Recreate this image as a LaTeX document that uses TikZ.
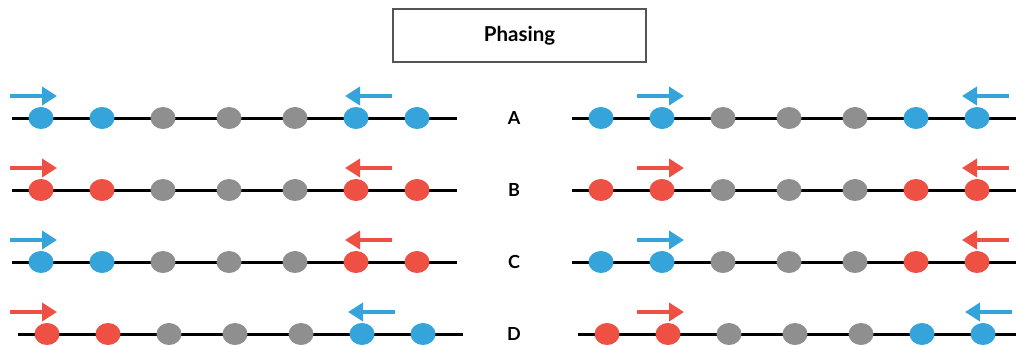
\documentclass[tikz,border=0pt]{standalone}
\usepackage{fontspec}
\setmainfont{Lato}
\usetikzlibrary{arrows.meta,shapes.geometric}
\definecolor{cblue}{HTML}{34A4DA}
\definecolor{cred}{HTML}{EE5043}
\definecolor{cgray}{HTML}{8F8F8F}
\definecolor{cframe}{HTML}{555555}
\begin{document}
\begin{tikzpicture}[x=1pt,y=-1pt,
  dot/.style={ellipse,minimum width=25pt,minimum height=22pt,inner sep=0pt,fill=#1},
  track/.style={line width=3pt,black},
  mover/.style={line width=4.5pt,draw=#1,-{Triangle[length=15pt,width=18pt,fill=#1]}},
  lbl/.style={font=\bfseries\fontsize{18}{20}\selectfont},
  titlebox/.style={draw=cframe,line width=1.5pt,minimum width=253pt,minimum height=53pt,inner sep=0pt,font=\bfseries\fontsize{20.5}{24}\selectfont}]
\useasboundingbox (0,0) rectangle (1016,345);
\node[titlebox] (title) at (519.5,35.5) {Phasing};
\foreach \r/\y/\dx/\ca/\cb in {A/118/0/cblue/cblue, B/190/0/cred/cred, C/262/0/cblue/cred, D/334/6/cred/cblue}{
  % left panel
  \coordinate (LS\r) at (12+\dx,\y);
  \coordinate (LE\r) at (457+\dx,\y);
  \draw[track] (LS\r) -- (LE\r);
  \node[dot=\ca] (L\r1) at (41+\dx,\y) {};
  \node[dot=\ca] (L\r2) at (102+\dx,\y) {};
  \node[dot=cgray] (L\r3) at (163+\dx,\y) {};
  \node[dot=cgray] (L\r4) at (229+\dx,\y) {};
  \node[dot=cgray] (L\r5) at (295+\dx,\y) {};
  \node[dot=\cb] (L\r6) at (356+\dx,\y) {};
  \node[dot=\cb] (L\r7) at (417+\dx,\y) {};
  \coordinate (LAa\r) at (10,\y-22);
  \coordinate (LAb\r) at (57,\y-22);
  \coordinate (LBa\r) at (392+\dx/2,\y-22);
  \coordinate (LBb\r) at (345+\dx/2,\y-22);
  \draw[mover=\ca] (LAa\r) -- (LAb\r);
  \draw[mover=\cb] (LBa\r) -- (LBb\r);
  % label
  \node[lbl] (lab\r) at (514,\y) {\r};
  % right panel
  \coordinate (RS\r) at (572+\dx,\y);
  \coordinate (RE\r) at (1016,\y);
  \draw[track] (RS\r) -- (RE\r);
  \node[dot=\ca] (R\r1) at (601+\dx,\y) {};
  \node[dot=\ca] (R\r2) at (662+\dx,\y) {};
  \node[dot=cgray] (R\r3) at (723+\dx,\y) {};
  \node[dot=cgray] (R\r4) at (789+\dx,\y) {};
  \node[dot=cgray] (R\r5) at (855+\dx,\y) {};
  \node[dot=\cb] (R\r6) at (916+\dx,\y) {};
  \node[dot=\cb] (R\r7) at (977+\dx,\y) {};
  \coordinate (RAa\r) at (637,\y-22);
  \coordinate (RAb\r) at (684,\y-22);
  \coordinate (RBa\r) at (1009+\dx/2,\y-22);
  \coordinate (RBb\r) at (962+\dx/2,\y-22);
  \draw[mover=\ca] (RAa\r) -- (RAb\r);
  \draw[mover=\cb] (RBa\r) -- (RBb\r);
}
\end{tikzpicture}
\end{document}
